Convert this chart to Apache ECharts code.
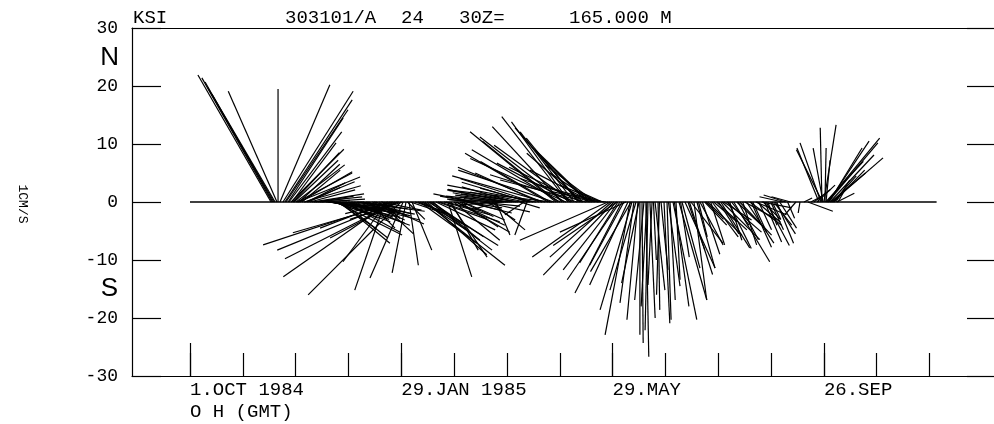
<!DOCTYPE html>
<html>
<head>
<meta charset="utf-8">
<script src="https://cdn.jsdelivr.net/npm/echarts@6/dist/echarts.min.js"></script>
<style>
  html, body { margin: 0; padding: 0; background: #fff; }
  #chart { width: 994px; height: 424px; }
</style>
</head>
<body>
<div id="chart"></div>
<script>
// days since 1 Oct 1984 0 h, east and north components (cm/s) of each stick
var days = [
  46.0, 46.6, 47.1, 47.7, 48.3, 49.4, 50.0, 51.1, 52.8, 53.9, 54.5, 55.7, 56.2, 57.4, 57.9, 59.1, 60.2, 61.3, 62.5, 63.6, 64.7, 66.4, 68.1, 70.4, 72.7, 75.0,
  58.5, 60.8, 62.0, 65.5, 67.2, 69.2, 71.5, 73.8,
  77.2, 78.4, 79.5, 80.6, 81.8, 82.9, 84.0, 85.2, 86.3, 87.4, 88.6, 89.7, 91.4, 93.1, 94.8, 96.5, 98.2, 99.9, 101.6, 103.5, 105.5, 107.5, 109.2,
  78.9, 80.0, 81.2, 83.5, 84.6, 86.9, 88.0, 90.5, 92.2, 95.6, 97.3, 100.7, 104.5, 108.4, 114.5, 120.4, 123.5, 125.2,
  110.7, 111.9, 112.4, 113.6, 115.3, 116.4, 117.5, 118.1, 118.7, 119.8, 121.0, 122.7, 124.4, 126.1,
  127.8, 129.5, 130.6, 132.3, 133.4, 134.6, 136.3, 138.0, 139.7, 142.0, 144.2, 146.5, 148.2, 149.9, 151.6, 153.3, 155.0, 156.7, 158.4,
  131.5, 135.5, 137.1, 140.8, 145.3, 147.3, 150.8, 154.2, 157.5,
  160.1, 162.4, 164.7, 167.0, 169.2, 171.5, 173.8, 176.0, 178.3, 180.6, 182.9, 185.1, 187.4, 189.7, 191.4,
  159.2, 161.3, 163.5, 170.3, 174.9, 177.2, 179.4, 181.7, 184.0, 186.3, 188.5, 190.5, 192.2, 194.8, 198.2, 201.6, 204.5, 206.7,
  193.1, 196.5, 199.9, 203.3, 205.6, 207.8, 208.9, 210.1, 211.2, 212.4, 213.5, 214.6, 215.5, 216.4, 217.2, 218.1, 219.8, 220.6, 221.5, 222.4, 223.2, 224.9, 225.7, 226.6, 227.4, 228.3, 229.2, 230.0, 231.7, 232.5, 233.4, 234.2, 235.1, 236.2,
  237.4, 238.5, 239.6, 240.8, 241.9, 243.0, 244.2, 245.3, 246.4, 247.6, 248.7, 249.9, 251.0, 252.1, 253.3, 254.4, 255.5, 256.7, 257.8, 258.9, 260.1, 261.2, 262.4, 264.1, 265.8, 267.5, 269.2, 270.9, 272.6, 274.3, 276.0, 277.7, 279.4, 281.1, 282.8, 284.5, 286.2, 287.9, 289.6,
  242.5, 250.5, 255.0, 259.5, 263.2, 266.6, 271.7, 275.1, 278.6, 283.6, 288.8, 291.0,
  292.3, 294.0, 295.7, 297.4, 299.1, 301.4, 303.1, 304.8, 306.5, 308.8, 310.5, 312.2, 313.9, 316.1, 317.9, 319.6, 321.3, 323.0, 324.7, 326.4, 328.1, 329.8, 331.5, 333.2, 334.9, 336.6, 338.3, 339.4, 341.1, 344.1, 346.4, 348.7,
  293.1, 296.5, 300.2, 302.2, 305.6, 307.6, 311.3, 315.0, 318.7, 322.1, 325.5, 327.2, 330.6, 332.3,
  350.9, 352.6, 354.3, 356.1, 357.2, 358.3, 358.9, 359.5, 360.0, 360.6, 361.2, 361.7, 362.3, 362.9, 363.4, 364.6, 365.7, 366.8, 368.0,
  359.2, 361.0, 362.6, 363.9, 365.2, 367.4
];
var east = [
  -12.6, -12.1, -11.7, -11.4, -10.9, -8.4, 0, 8.6, 12.1, 11.6, 10.7, 9.5, 9.1, 9.1, 7.6, 7.6, 8.4, 10.7, 9.0, 6.6, 9.8, 6.6, 7.8, 8.3, 5.5, 7.4,
  8.0, 9.5, 7.0, 8.5, 5.5, 9.0, 6.5, 4.5,
  7.9, 9.8, 11.2, 11.7, 9.7, 11.4, 6.4, 8.6, 7.9, 9.7, 11.0, 12.4, 11.0, 12.2, 7.4, 5.2, 5.5, 6.7, 4.5, 6.0, 8.3, 5.9, 3.1,
  6.0, 8.5, 7.0, 9.0, 10.5, 6.0, 8.2, 9.5, 7.0, 9.0, 8.0, 7.5, 4.0, 7.0, -8.0, -9.0, 3.0, 6.0,
  -5.2, -7.6, -11.7, -18.4, -22.4, -20.3, -19.3, -11.7, -18.3, -16.0, -5.7, -2.4, 1.6, 3.4,
  4.3, 5.5, 9.8, 8.1, 13.8, 10.3, 10.7, 8.1, 10.2, 10.3, 7.9, 4.1, 4.7, 7.9, 9.1, 6.6, 7.2, 7.9, 5.3,
  7.5, 12.0, 9.0, 8.5, 6.0, 6.5, 8.5, 5.5, 6.0,
  -5.5, -3.6, 6.9, 7.9, 4.7, 5.7, 2.4, -5.2, -7.6, -6.6, -9.8, -7.9, 3.4, -3.3, -2.1,
  -4.0, -7.0, -5.0, -4.5, -6.5, -8.5, -10.0, -11.0, -9.0, -12.0, -10.5, -6.0, -11.5, -12.5, -11.0, -16.0, -12.0, -16.5,
  -8.6, -15.3, -14.5, -14.3, -18.1, -14.8, -13.0, -15.2, -12.0, -14.5, -16.5, -11.4, -10.0, -12.8, -13.5, -9.3, -15.0, -9.0, -11.2, -12.5, -9.7, -14.8, -8.0, -9.3, -12.0, -10.7, -7.5, -8.6, -10.0, -8.2, -7.1, -4.5, -5.0, -2.8,
  -15.2, -13.4, -10.7, -12.2, -9.1, -6.6, -9.1, -8.1, -5.9, -11.4, -6.6, -4.3, -5.5, -2.4, -4.5, -1.9, 0, 0.2, -1.6, 0.5, -0.5, 0.9, -0.7, 1.7, 0.3, 1.2, 1.0, 0.7, 0.9, 4.1, 0.7, 4.8, 3.1, 5.2, 2.9, 5.5, 2.2, 3.1, 4.0,
  -11.0, -7.0, -3.0, -1.0, 0.5, -0.5, 2.0, 2.5, 1.5, 4.0, 1.5, 3.0,
  3.8, 5.9, 2.4, 4.0, 5.2, 5.0, 4.8, 6.0, 2.1, 6.2, 4.3, 5.5, 2.4, 4.7, 5.5, 2.4, 5.3, 2.2, 5.2, 2.9, 1.6, 2.2, 3.1, 2.9, 2.9, -4.0, -3.8, 1.2, -3.3, -1.9, -0.3, 1.4,
  3.0, 4.5, 3.5, 6.5, 4.0, 3.0, 3.5, 5.5, 3.5, 4.0, 3.0, 4.0, 1.5, 3.5,
  4.3, 1.9, 2.8, 3.1, -3.8, -3.6, -0.3, -1.7, 2.1, 0.2, 0.7, 9.1, 8.6, 5.7, 7.6, 8.8, 5.3, 2.4, 1.2,
  -4.5, 6.5, 7.0, 6.0, 4.0, 3.0
];
var north = [
  21.9, 21.4, 20.7, 19.7, 18.6, 19.1, 19.5, 20.2, 19.1, 17.6, 15.9, 14.5, 12.1, 9.1, 10.2, 7.2, 6.4, 4.3, 5.2, 5.5, 2.8, 3.3, 2.1, 0.9, 0.3, 0.5,
  8.5, 5.0, 6.5, 3.5, 2.5, 1.4, 1.0, 0.6,
  -0.7, -1.2, -1.9, -2.6, -3.4, -5.7, -4.5, -7.1, -6.2, -5.2, -4.0, -3.1, -2.1, -1.6, -1.0, -0.7, -1.7, -3.1, -4.5, -2.4, -3.8, -5.5, -2.9,
  -0.9, -1.5, -2.2, -3.0, -2.0, -2.8, -1.8, -3.6, -2.6, -2.4, -1.2, -2.0, -1.0, -1.4, -2.0, -3.0, -3.0, -2.0,
  -15.2, -10.3, -4.5, -12.9, -7.4, -8.3, -9.8, -6.2, -5.3, -16.0, -13.1, -12.2, -10.9, -8.3,
  -1.4, -2.2, -7.1, -5.2, -10.9, -9.1, -8.3, -6.6, -4.8, -3.4, -2.2, -12.9, -8.3, -6.6, -5.2, -4.3, -3.1, -1.9, -1.4,
  -4.0, -7.5, -6.0, -3.0, -1.5, -9.5, -4.0, -2.5, -1.0,
  1.0, 0.7, -0.7, -1.7, -3.1, -4.8, -5.7, -1.4, -0.5, 0.3, 1.2, 1.7, -1.0, -2.2, -5.7,
  0.5, 1.4, 0.4, 0.6, 0.9, 1.6, 2.2, 1.0, 2.6, 2.0, 1.4, 1.2, 3.4, 4.0, 5.0, 4.5, 7.0, 5.5,
  2.4, 2.9, 6.0, 8.4, 2.1, 12.1, 10.5, 9.0, 13.0, 11.2, 7.5, 14.7, 13.8, 6.7, 9.8, 12.1, 4.7, 11.0, 12.8, 6.0, 8.4, 3.8, 7.8, 9.0, 4.0, 5.5, 5.0, 6.4, 2.9, 1.8, 2.9, 2.0, 1.2, 0.3,
  -6.6, -9.5, -9.5, -12.6, -11.7, -10.5, -13.4, -15.7, -10.9, -5.2, -14.3, -22.9, -18.6, -17.4, -15.2, -20.3, -22.9, -24.3, -16.9, -26.7, -22.1, -20.0, -14.3, -15.2, -18.6, -11.7, -20.9, -20.3, -16.9, -20.3, -13.4, -16.9, -11.4, -11.4, -8.3, -7.1, -16.9, -11.4, -7.4,
  -7.5, -12.0, -14.0, -18.0, -10.0, -16.0, -14.5, -18.0, -9.5, -12.5, -6.0, -9.0,
  -4.0, -5.7, -7.4, -3.4, -4.8, -7.9, -3.1, -5.2, -6.6, -10.3, -4.0, -5.7, -7.4, -7.1, -4.0, -5.2, -2.2, -4.8, -1.0, -6.9, -4.0, -4.8, -4.0, -7.1, -4.5, 0.9, 1.2, -2.8, 0.9, -2.2, -1.9, 0.7,
  -3.0, -6.0, -5.5, -6.5, -8.0, -4.0, -6.5, -3.0, -7.8, -3.5, -3.0, -7.5, -3.0, -5.5,
  -1.6, 1.0, 2.1, 2.9, 9.3, 10.2, 12.8, 9.3, 13.3, 9.3, 7.2, 11.0, 10.2, 9.3, 8.1, 7.6, 5.5, 3.8, 2.1,
  9.0, 7.0, 10.5, 5.0, 4.5, 1.5
];

// zero line of the record
var baselineDays = [0, 424];

// time axis: ticks every 30 days, labelled ones every 120 days
var tickDays = [0, 30, 60, 90, 120, 150, 180, 210, 240, 270, 300, 330, 360, 390, 420];
var labelDays = [0, 120, 240, 360];
var tickLabels = ['1.OCT 1984', '29.JAN 1985', '29.MAY', '26.SEP'];
var timeNote = 'O H (GMT)';

var headTexts = ['KSI', '303101/A', '24', '30Z=', '165.000 M'];

var mono = '"Liberation Mono", "DejaVu Sans Mono", monospace';

var chart = echarts.init(document.getElementById('chart'));

var sticks = days.map(function (d, i) { return [d, east[i], north[i]]; });

function axisX(extra) {
    var a = {
        type: 'value',
        min: -32.94,
        max: 456.6,
        position: 'bottom',
        splitLine: { show: false }
    };
    for (var k in extra) a[k] = extra[k];
    return a;
}

function headText(x, s) {
    return { type: 'text', x: x, y: 18,
             style: { text: s, font: '19px ' + mono, fill: '#000', verticalAlign: 'middle', textVerticalAlign: 'middle' } };
}

var option = {
    animation: false,
    backgroundColor: '#ffffff',
    grid: { left: 132, right: 0, top: 28, bottom: 48, show: false },
    xAxis: [
        axisX({
            axisLine: { show: true, onZero: false, lineStyle: { color: '#000', width: 1.2 } },
            axisTick: { show: true, inside: true, length: 23, customValues: tickDays,
                        lineStyle: { color: '#000', width: 1.2 } },
            axisLabel: {
                show: true, customValues: labelDays, align: 'left', margin: 3,
                fontFamily: mono, fontSize: 19, lineHeight: 22, color: '#000',
                formatter: function (v) {
                    var i = labelDays.indexOf(Math.round(v));
                    if (i < 0) return '';
                    return i === 0 ? tickLabels[i] + '\n' + timeNote : tickLabels[i];
                }
            }
        }),
        axisX({
            axisLine: { show: false, onZero: false },
            axisTick: { show: true, inside: true, length: 33, customValues: labelDays,
                        lineStyle: { color: '#000', width: 1.2 } },
            axisLabel: { show: false }
        }),
        axisX({
            position: 'top',
            axisLine: { show: true, onZero: false, lineStyle: { color: '#000', width: 1.2 } },
            axisTick: { show: false },
            axisLabel: { show: false }
        })
    ],
    yAxis: [
        {
            type: 'value', min: -30, max: 30, interval: 10, position: 'left',
            axisLine: { show: true, onZero: false, lineStyle: { color: '#000', width: 1.2 } },
            axisTick: { show: true, inside: true, length: 29, lineStyle: { color: '#000', width: 1.2 } },
            axisLabel: { margin: 14, fontFamily: mono, fontSize: 18, color: '#000' },
            splitLine: { show: false }
        },
        {
            type: 'value', min: -30, max: 30, interval: 10, position: 'right',
            axisLine: { show: false, onZero: false },
            axisTick: { show: true, inside: true, length: 27, lineStyle: { color: '#000', width: 1.2 } },
            axisLabel: { show: false },
            splitLine: { show: false }
        }
    ],
    graphic: [
        headText(133, headTexts[0]),
        headText(285, headTexts[1]),
        headText(401, headTexts[2]),
        headText(459, headTexts[3]),
        headText(569, headTexts[4]),
        { type: 'text', x: 119, y: 58, style: { text: 'N', font: '26px "Liberation Sans", sans-serif', fill: '#000', align: 'right', textAlign: 'right', verticalAlign: 'middle', textVerticalAlign: 'middle' } },
        { type: 'text', x: 118, y: 289, style: { text: 'S', font: '26px "Liberation Sans", sans-serif', fill: '#000', align: 'right', textAlign: 'right', verticalAlign: 'middle', textVerticalAlign: 'middle' } },
        { type: 'text', x: 22, y: 204, rotation: -Math.PI / 2,
          style: { text: '1CM/S', font: '13px ' + mono, fill: '#000', align: 'center', textAlign: 'center', verticalAlign: 'middle', textVerticalAlign: 'middle' } }
    ],
    series: [
        {
            type: 'line',
            xAxisIndex: 0, yAxisIndex: 0,
            data: baselineDays.map(function (d) { return [d, 0]; }),
            symbol: 'none', silent: true,
            lineStyle: { color: '#000', width: 1.3 }
        },
        {
            type: 'custom',
            xAxisIndex: 0, yAxisIndex: 0,
            data: sticks,
            encode: { x: 0, y: 2 },
            clip: true,
            renderItem: function (params, api) {
                var p0 = api.coord([api.value(0), 0]);
                var unit = api.size([0, 1])[1];
                return {
                    type: 'line',
                    shape: {
                        x1: p0[0], y1: p0[1],
                        x2: p0[0] + api.value(1) * unit,
                        y2: p0[1] - api.value(2) * unit
                    },
                    style: { stroke: '#000', lineWidth: 1.2 }
                };
            }
        }
    ]
};

chart.setOption(option);
</script>
</body>
</html>
